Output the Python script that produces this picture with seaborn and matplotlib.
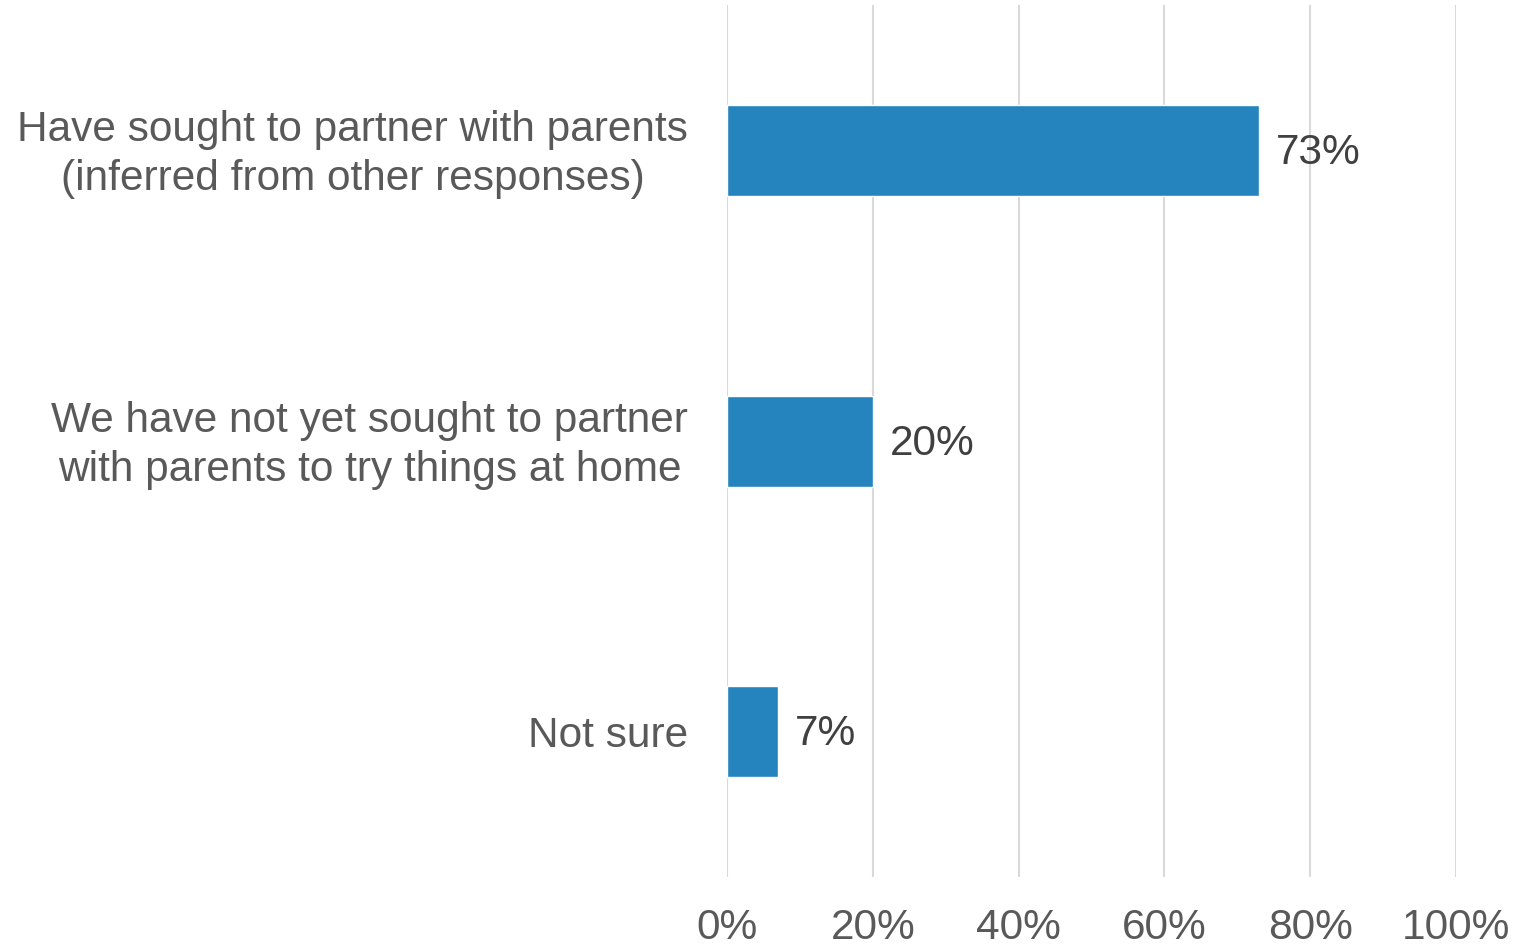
import matplotlib
matplotlib.use("Agg")
import matplotlib.pyplot as plt
import matplotlib.transforms as mtransforms
import seaborn as sns
import pandas as pd

categories = [
    "Have sought to partner with parents\n(inferred from other responses)",
    "We have not yet sought to partner\nwith parents to try things at home",
    "Not sure",
]
values = [73, 20, 7]
xticks = [0, 20, 40, 60, 80, 100]

BAR_COLOR = "#2584BE"
GRID_COLOR = "#D9D9D9"
TICK_COLOR = "#595959"
LABEL_COLOR = "#404040"


def create_plot():
    df = pd.DataFrame({"category": categories, "value": values})
    sns.set_theme(style="white")
    plt.rcParams["font.family"] = ["Liberation Sans", "DejaVu Sans"]

    fig = plt.figure(figsize=(15.2, 9.47), dpi=100)
    ax = fig.add_axes([0.4783, 0.0739, 0.4796, 0.9208])

    sns.barplot(data=df, x="value", y="category", orient="h",
                color=BAR_COLOR, saturation=1, width=0.313, ax=ax, zorder=3)

    ax.set_xlim(0, 100)
    ax.set_ylim(2.5, -0.5)
    ax.set_xticks(xticks)
    ax.set_xticklabels([f"{t}%" for t in xticks])
    ax.xaxis.grid(True, color=GRID_COLOR, linewidth=1.5, zorder=0)
    ax.set_axisbelow(True)
    for s in ax.spines.values():
        s.set_visible(False)
    ax.set_xlabel("")
    ax.set_ylabel("")
    ax.tick_params(axis="x", length=0, pad=22, labelsize=30.5, labelcolor=TICK_COLOR)
    ax.tick_params(axis="y", length=0, pad=28, labelsize=30.5, labelcolor=TICK_COLOR)
    # nudge the two-line labels up a little
    shift = mtransforms.ScaledTranslation(0, 5 / 100, fig.dpi_scale_trans)
    for lbl in ax.get_yticklabels():
        lbl.set_multialignment("center")
        lbl.set_linespacing(1.3)
        if "\n" in lbl.get_text():
            lbl.set_transform(lbl.get_transform() + shift)

    for i, v in enumerate(values):
        ax.annotate(f"{v}%", xy=(v, i), xytext=(12, -2), textcoords="offset points",
                    va="center", ha="left", fontsize=30.5, color=LABEL_COLOR)

    fig.savefig("out.png", dpi=100)


if __name__ == "__main__":
    create_plot()
